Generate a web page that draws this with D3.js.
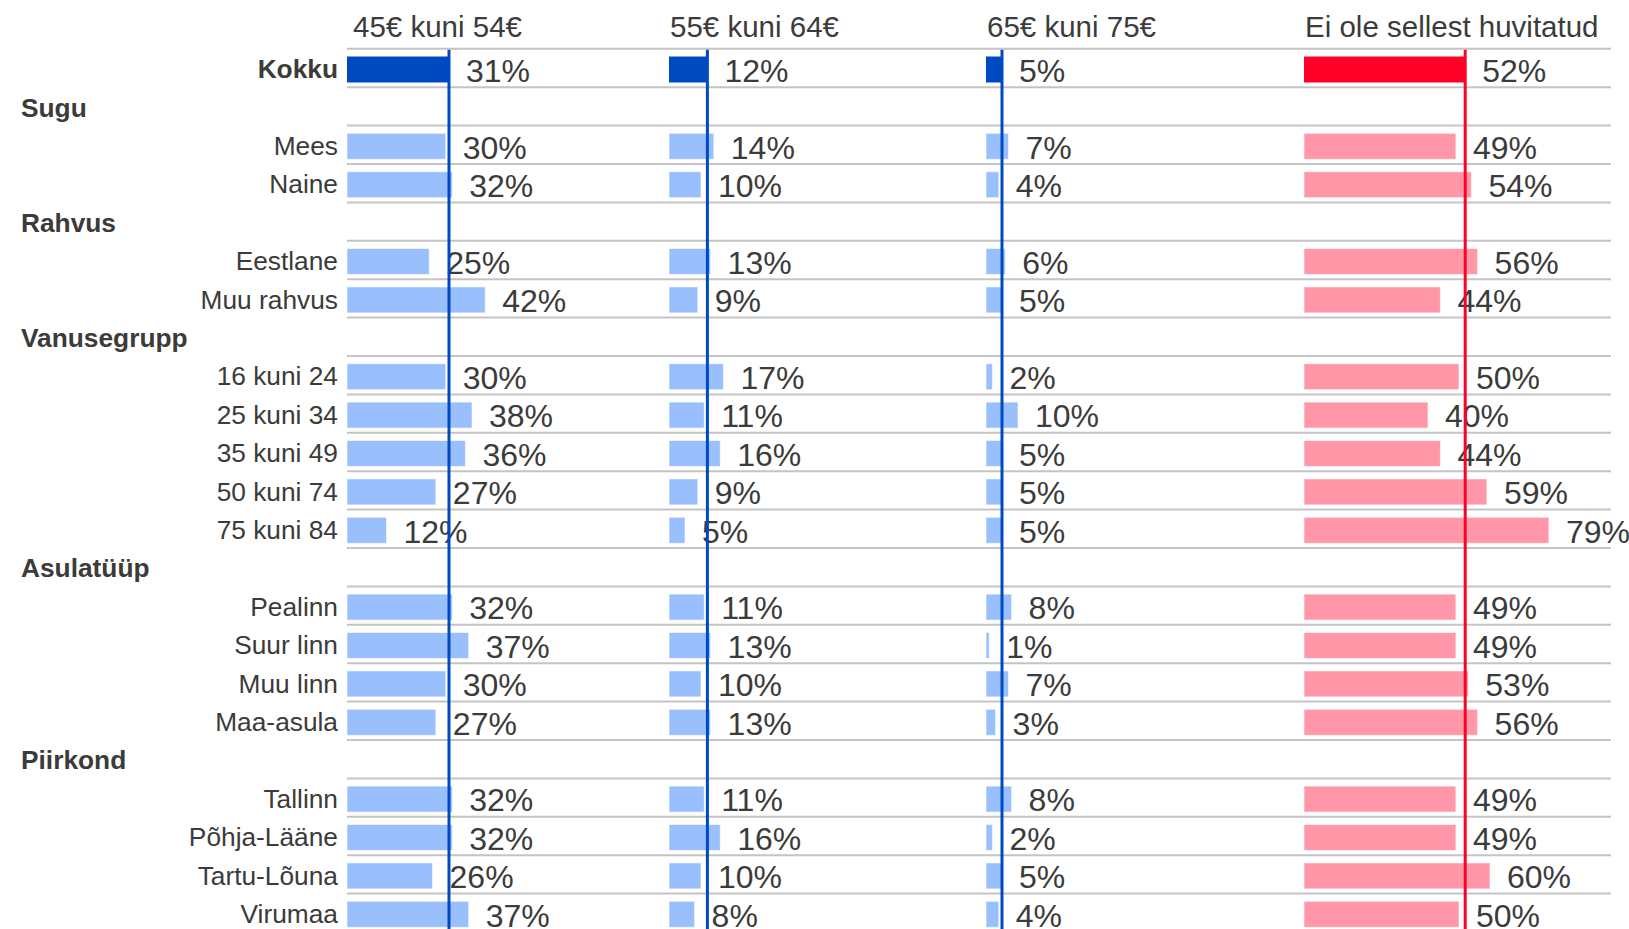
<!DOCTYPE html>
<html>
<head>
<meta charset="utf-8">
<script src="https://cdn.jsdelivr.net/npm/d3@7"></script>
<style>
  html, body { margin: 0; padding: 0; background: #fff; }
  svg { display: block; font-family: "Liberation Sans", Arial, sans-serif; }
</style>
</head>
<body>
<svg id="chart" width="1629" height="929"></svg>
<script>
// ---- data ----
const rowLabels = ["Kokku", "Sugu", "Mees", "Naine", "Rahvus", "Eestlane", "Muu rahvus",
  "Vanusegrupp", "16 kuni 24", "25 kuni 34", "35 kuni 49", "50 kuni 74", "75 kuni 84",
  "Asulatüüp", "Pealinn", "Suur linn", "Muu linn", "Maa-asula",
  "Piirkond", "Tallinn", "Põhja-Lääne", "Tartu-Lõuna", "Virumaa"];
const rowTypes = ["total", "header", "item", "item", "header", "item", "item",
  "header", "item", "item", "item", "item", "item",
  "header", "item", "item", "item", "item",
  "header", "item", "item", "item", "item"];
const seriesNames = ["45€ kuni 54€", "55€ kuni 64€", "65€ kuni 75€", "Ei ole sellest huvitatud"];
// values per data row (Kokku + items, in order, headers excluded)
const s1 = [31, 30, 32, 25, 42, 30, 38, 36, 27, 12, 32, 37, 30, 27, 32, 32, 26, 37];
const s2 = [12, 14, 10, 13, 9, 17, 11, 16, 9, 5, 11, 13, 10, 13, 11, 16, 10, 8];
const s3 = [5, 7, 4, 6, 5, 2, 10, 5, 5, 5, 8, 1, 7, 3, 8, 2, 5, 4];
const s4 = [52, 49, 54, 56, 44, 50, 40, 44, 59, 79, 49, 49, 53, 56, 49, 49, 60, 50];
const seriesValues = [s1, s2, s3, s4];

// ---- layout ----
const W = 1629, H = 929;
const topY = 48.8, rowH = 38.4;
const panelStart = [347, 669, 986, 1304];
const pxPerPct = [3.29, 3.2, 3.2, 3.1];
const gridX0 = 347, gridX1 = 1611;
const catRight = 338;
const textColor = "#3b3b3b";
const darkCol = ["#004ac1", "#004ac1", "#004ac1", "#ff0029"];
const lightCol = ["#99bffc", "#99bffc", "#99bffc", "#ff97a8"];

const svg = d3.select("#chart");

const y = d3.scaleBand().domain(d3.range(rowLabels.length))
  .range([topY, topY + rowH * rowLabels.length]).padding(0);

const dataRows = [];
rowTypes.forEach((t, i) => { if (t !== "header") dataRows.push(i); });

const xs = panelStart.map((s, p) => d3.scaleLinear().domain([0, 100]).range([s, s + 100 * pxPerPct[p]]));

// gridlines at every row boundary
const bounds = d3.range(rowLabels.length + 1).map(i => topY + i * rowH);
svg.append("g").selectAll("line").data(bounds).join("line")
  .attr("x1", gridX0).attr("x2", gridX1)
  .attr("y1", d => d).attr("y2", d => d)
  .attr("stroke", "#c4c4c4").attr("stroke-width", 2);

// row labels
svg.append("g").selectAll("text").data(rowLabels).join("text")
  .attr("x", (d, i) => rowTypes[i] === "header" ? 21 : catRight)
  .attr("y", (d, i) => y(i) + rowH / 2 + (rowTypes[i] === "header" ? 1 : 1))
  .attr("dy", "0.35em")
  .attr("text-anchor", (d, i) => rowTypes[i] === "header" ? "start" : "end")
  .attr("font-size", 26.3)
  .attr("font-weight", (d, i) => rowTypes[i] === "item" ? "normal" : "bold")
  .attr("fill", textColor)
  .text(d => d);

// column titles
svg.append("g").selectAll("text").data(seriesNames).join("text")
  .attr("x", (d, p) => panelStart[p] + (p === 0 ? 6 : 1))
  .attr("y", 37)
  .attr("font-size", 29.5)
  .attr("fill", textColor)
  .text(d => d);

const barH = 26;
seriesValues.forEach((vals, p) => {
  const x = xs[p];
  const g = svg.append("g");
  g.selectAll("rect").data(vals).join("rect")
    .attr("x", x(0))
    .attr("y", (d, k) => y(dataRows[k]) + rowH / 2 - barH / 2 + 1.5)
    .attr("width", d => x(d) - x(0))
    .attr("height", barH)
    .attr("fill", (d, k) => k === 0 ? darkCol[p] : lightCol[p])
    .attr("stroke", (d, k) => k === 0 ? "none" : "rgba(255,255,255,0.6)")
    .attr("stroke-width", 1);
  g.selectAll("text").data(vals).join("text")
    .attr("x", d => x(d) + 17)
    .attr("y", (d, k) => y(dataRows[k]) + rowH / 2 + 2.5)
    .attr("dy", "0.35em")
    .attr("font-size", 32)
    .attr("fill", textColor)
    .text(d => d + "%");
  g.append("line")
    .attr("x1", x(vals[0])).attr("x2", x(vals[0]))
    .attr("y1", topY + 1).attr("y2", H)
    .attr("stroke", darkCol[p]).attr("stroke-width", 3);
});
</script>
</body>
</html>
